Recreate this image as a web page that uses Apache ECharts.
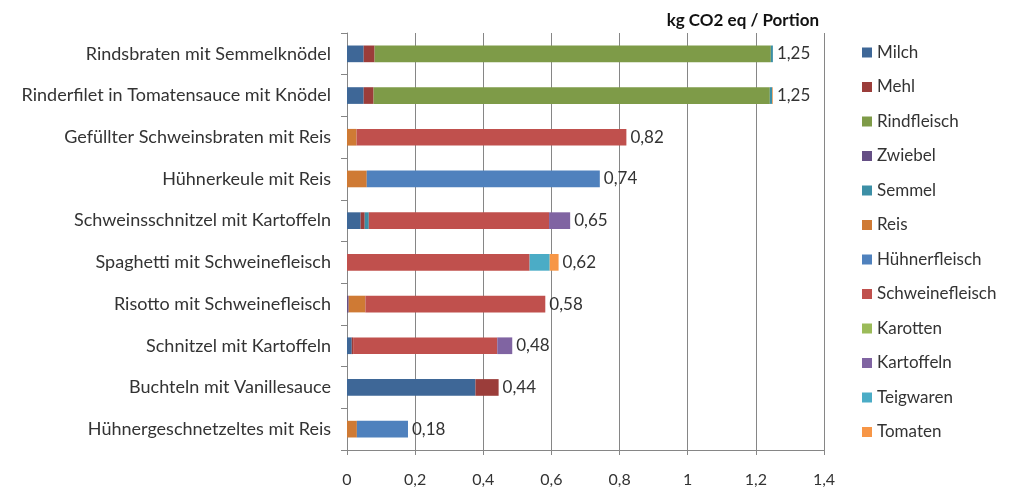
<!DOCTYPE html>
<html>
<head>
<meta charset="utf-8">
<script src="https://cdn.jsdelivr.net/npm/echarts@6/dist/echarts.min.js"></script>
<style>
  html, body { margin: 0; padding: 0; background: #fff; }
  #chart { width: 1016px; height: 493px; }
</style>
</head>
<body>
<div id="chart"></div>
<script>
// Gerichte (oben nach unten)
var dishes = [
  "Rindsbraten mit Semmelknödel",
  "Rinderfilet in Tomatensauce mit Knödel",
  "Gefüllter Schweinsbraten mit Reis",
  "Hühnerkeule mit Reis",
  "Schweinsschnitzel mit Kartoffeln",
  "Spaghetti mit Schweinefleisch",
  "Risotto mit Schweinefleisch",
  "Schnitzel mit Kartoffeln",
  "Buchteln mit Vanillesauce",
  "Hühnergeschnetzeltes mit Reis"
];

// kg CO2 eq je Zutat
var milch          = [0.049, 0.049, 0, 0, 0.040, 0, 0, 0.014, 0.377, 0];
var mehl           = [0.032, 0.029, 0, 0, 0.012, 0, 0, 0.004, 0.068, 0];
var rindfleisch    = [1.163, 1.163, 0, 0, 0, 0, 0, 0, 0, 0];
var zwiebel        = [0, 0, 0, 0, 0, 0, 0.005, 0, 0, 0];
var semmel         = [0.006, 0.007, 0, 0, 0.012, 0, 0, 0, 0, 0];
var reis           = [0, 0, 0.028, 0.058, 0, 0, 0.049, 0, 0, 0.029];
var huehnerfleisch = [0, 0, 0, 0.684, 0, 0, 0, 0, 0, 0.150];
var schweinefleisch= [0, 0, 0.792, 0, 0.529, 0.536, 0.528, 0.423, 0, 0];
var karotten       = [0, 0, 0, 0, 0, 0, 0, 0, 0, 0];
var kartoffeln     = [0, 0, 0, 0, 0.062, 0, 0, 0.044, 0, 0];
var teigwaren      = [0, 0, 0, 0, 0, 0.059, 0, 0, 0, 0];
var tomaten        = [0, 0.002, 0, 0, 0, 0.026, 0, 0, 0, 0];

var totals = [1.25, 1.25, 0.82, 0.74, 0.65, 0.62, 0.58, 0.48, 0.44, 0.18];
var xTicks = [0, 0.2, 0.4, 0.6, 0.8, 1, 1.2, 1.4];

var names = ["Milch", "Mehl", "Rindfleisch", "Zwiebel", "Semmel", "Reis",
  "Hühnerfleisch", "Schweinefleisch", "Karotten", "Kartoffeln", "Teigwaren", "Tomaten"];
var values = [milch, mehl, rindfleisch, zwiebel, semmel, reis,
  huehnerfleisch, schweinefleisch, karotten, kartoffeln, teigwaren, tomaten];
var colors = ["#3E6797", "#9B3D3A", "#7E9B48", "#654F85", "#3C8FA6", "#CF7A34",
  "#4F81BD", "#C0504D", "#9BBB59", "#8064A2", "#4BACC6", "#F79646"];

var font = "Lato, 'Open Sans', sans-serif";
var textColor = "#333";

function komma(v) {
  return String(v).replace(".", ",");
}

var series = names.map(function (n, i) {
  return {
    name: n,
    type: "bar",
    stack: "summe",
    barWidth: "40%",
    itemStyle: { color: colors[i] },
    data: values[i]
  };
});

// unsichtbare Reihe für die Summen
series.push({
  name: "Summe",
  type: "bar",
  stack: "summe",
  barWidth: "40%",
  itemStyle: { color: "transparent" },
  label: {
    show: true,
    position: "right",
    distance: 4,
    fontFamily: font,
    fontSize: 17,
    color: textColor,
    formatter: function (p) { return komma(totals[p.dataIndex].toFixed(2)); }
  },
  data: totals.map(function () { return 0; })
});

var myChart = echarts.init(document.getElementById("chart"));
var option = {
  animation: false,
  title: {
    text: "kg CO2 eq / Portion",
    right: 192,
    top: 7,
    textStyle: { fontFamily: font, fontSize: 17, fontWeight: "bold", color: "#111" }
  },
  legend: {
    data: names,
    orient: "vertical",
    left: 857,
    top: 39,
    itemWidth: 10,
    itemHeight: 10,
    itemGap: 17.5,
    icon: "rect",
    textStyle: { fontFamily: font, fontSize: 17, lineHeight: 17, color: textColor }
  },
  grid: { left: 347, right: 192, top: 33, bottom: 43 },
  xAxis: {
    type: "value",
    min: 0,
    max: 1.4,
    interval: 0.2,
    axisLine: { show: true, lineStyle: { color: "#868686" } },
    axisTick: { show: true, length: 5, lineStyle: { color: "#868686" } },
    splitLine: { show: true, lineStyle: { color: "#868686" } },
    axisLabel: {
      fontFamily: font, fontSize: 16, color: textColor, margin: 22,
      formatter: function (v) {
        for (var i = 0; i < xTicks.length; i++) {
          if (Math.abs(xTicks[i] - v) < 1e-9) return komma(xTicks[i]);
        }
        return komma(v);
      }
    }
  },
  yAxis: {
    type: "category",
    inverse: true,
    data: dishes,
    axisLine: { show: true, lineStyle: { color: "#868686" } },
    axisTick: { show: true, length: 6, lineStyle: { color: "#868686" } },
    axisLabel: { fontFamily: font, fontSize: 18, color: textColor, margin: 16 }
  },
  series: series
};
myChart.setOption(option);
</script>
</body>
</html>
